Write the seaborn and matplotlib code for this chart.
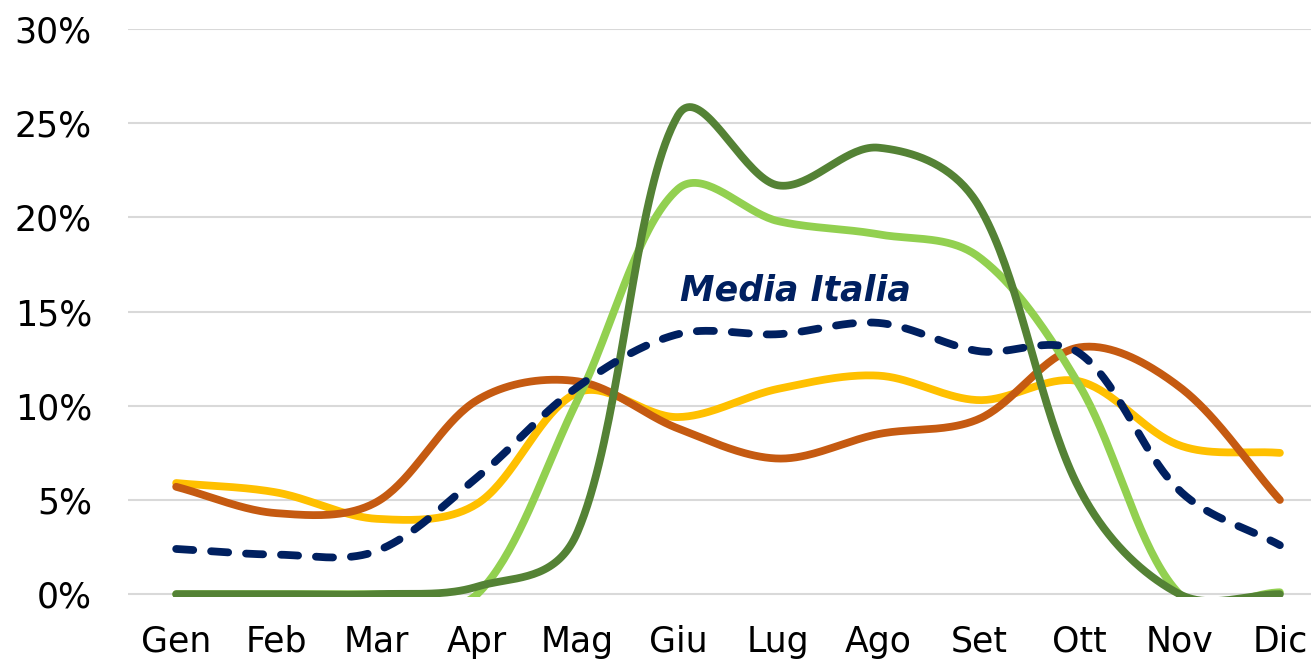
import numpy as np
import pandas as pd
import seaborn as sns
import matplotlib.pyplot as plt

mesi = ['Gen', 'Feb', 'Mar', 'Apr', 'Mag', 'Giu', 'Lug', 'Ago', 'Set', 'Ott', 'Nov', 'Dic']

# valori (%)
verde_scuro = [0.0, 0.0, 0.0, 0.4, 3.3, 25.4, 21.7, 23.7, 20.6, 5.6, 0.0, 0.0]
verde_chiaro = [0.0, 0.0, 0.0, 0.0, 10.3, 21.5, 19.8, 19.1, 17.9, 11.1, 0.0, 0.1]
arancio = [5.7, 4.3, 4.9, 10.3, 11.3, 8.8, 7.2, 8.5, 9.3, 13.1, 11.0, 5.0]
giallo = [5.9, 5.4, 4.0, 4.8, 10.7, 9.4, 10.9, 11.6, 10.3, 11.3, 7.9, 7.5]
media_italia = [2.4, 2.1, 2.3, 6.2, 11.0, 13.8, 13.8, 14.4, 12.9, 12.8, 5.5, 2.6]

colori = {
    'verde_scuro': '#548235',
    'verde_chiaro': '#92D050',
    'arancio': '#C55A11',
    'giallo': '#FFC000',
    'media': '#002060',
}

# rapporto pixel y/x per la smussatura (1 mese ~100 px, 1% ~18.9 px)
SY = 18.87 / 100.4
ALPHA = 0.4


def peso(d1, d2):
    return ALPHA * 0.5 + (1 - ALPHA) * d2 / (d1 + d2)


def smooth(vals, n=40):
    # linea smussata stile Excel (Bezier)
    x = np.arange(len(vals), dtype=float)
    y = np.array(vals, dtype=float) * SY
    P = np.column_stack([x, y])
    m = len(P)
    out = [P[0]]
    for i in range(m - 1):
        a, b = P[i], P[i + 1]
        d_ab = np.hypot(*(b - a))
        if i == 0:
            c1 = a + (b - a) / 3
        else:
            prev = P[i - 1]
            c1 = a + (b - prev) * peso(np.hypot(*(a - prev)), d_ab) / 3
        if i + 1 == m - 1:
            c2 = b - (b - a) / 3
        else:
            nxt = P[i + 2]
            c2 = b - (nxt - a) * peso(np.hypot(*(nxt - b)), d_ab) / 3
        t = np.linspace(0, 1, n)[1:, None]
        seg = ((1 - t) ** 3 * a + 3 * (1 - t) ** 2 * t * c1
               + 3 * (1 - t) * t ** 2 * c2 + t ** 3 * b)
        out.extend(seg)
    out = np.array(out)
    return pd.DataFrame({'x': out[:, 0], 'y': out[:, 1] / SY})


sns.set_theme(style='white')
plt.rcParams['font.family'] = ['DejaVu Sans']

fig = plt.figure(figsize=(13.11, 6.61), dpi=100)
ax = fig.add_axes([128 / 1311, 1 - 597 / 661, 1 - 128 / 1311, (597 - 29) / 661])

LW = 5.6
serie = [
    (giallo, colori['giallo']),
    (arancio, colori['arancio']),
    (verde_chiaro, colori['verde_chiaro']),
    (verde_scuro, colori['verde_scuro']),
]
for vals, col in serie:
    d = smooth(vals)
    sns.lineplot(data=d, x='x', y='y', color=col, linewidth=LW, ax=ax,
                 solid_capstyle='round', sort=False)

d = smooth(media_italia)
sns.lineplot(data=d, x='x', y='y', color=colori['media'], linewidth=LW, ax=ax,
             sort=False)
ax.lines[-1].set_linestyle((0, (2.2, 2.3)))
ax.lines[-1].set_dash_capstyle('round')

ax.text(6.17, 16.1, 'Media Italia', color=colori['media'], fontsize=25,
        fontweight='bold', fontstyle='italic', ha='center', va='center')

ax.set_ylim(-0.15, 30)
ax.set_xlim(-0.48, 11.31)
ax.set_yticks(range(0, 31, 5))
ax.set_yticklabels([f'{v}%' for v in range(0, 31, 5)])
ax.set_xticks(range(12))
ax.set_xticklabels(mesi)
ax.set_xlabel('')
ax.set_ylabel('')
ax.tick_params(axis='both', labelsize=25, colors='#000000', length=0)
ax.tick_params(axis='y', pad=26)
ax.tick_params(axis='x', pad=20)
ax.yaxis.grid(True, color='#D9D9D9', linewidth=1.5)
ax.set_axisbelow(True)
for s in ax.spines.values():
    s.set_visible(False)

fig.savefig('out.png', dpi=100)
